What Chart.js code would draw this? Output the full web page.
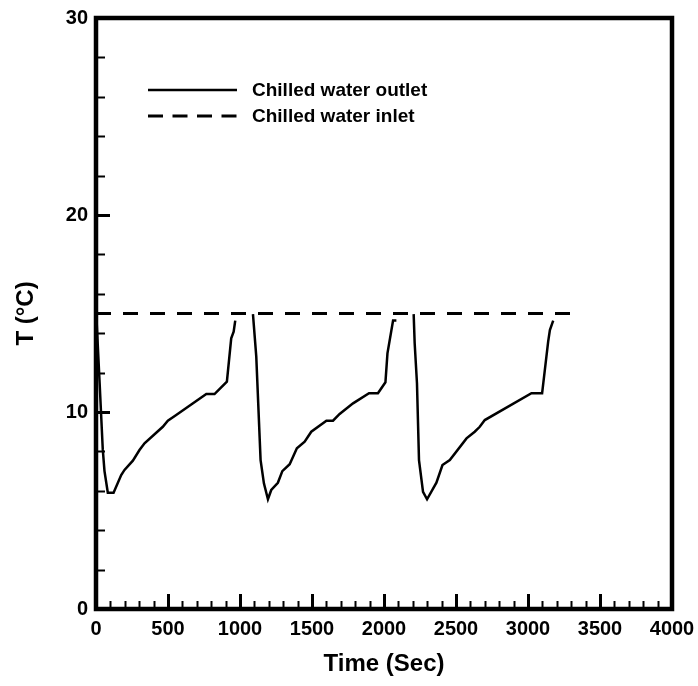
<!DOCTYPE html>
<html>
<head>
<meta charset="utf-8">
<title>Chilled water temperature</title>
<script src="https://cdn.jsdelivr.net/npm/chart.js@4/dist/chart.umd.min.js"></script>
<style>
  html, body { margin: 0; padding: 0; background: #fff; }
  #wrap { width: 698px; height: 686px; }
</style>
</head>
<body>
<div id="wrap"><canvas id="grafik" width="698" height="686"></canvas></div>
<script>
// Chilled water temperatures over three cycles
const outletTime = [
  5, 25, 47, 59, 82, 122, 175, 198, 256, 302, 337, 464, 499, 557, 766, 823, 909, 939, 956, 967,
  1030,
  1090, 1113, 1143, 1166, 1194, 1217, 1263, 1294, 1345, 1395, 1449, 1495, 1600, 1646, 1692, 1785, 1896, 1958, 2010, 2024, 2063, 2086,
  2150,
  2206, 2213, 2229, 2243, 2271, 2299, 2364, 2406, 2457, 2573, 2630, 2665, 2700, 3024, 3098, 3140, 3152, 3175
];
const outletTemp = [
  14.5, 11.5, 8.1, 7.0, 5.9, 5.9, 6.8, 7.06, 7.53, 8.07, 8.41, 9.25, 9.56, 9.85, 10.91, 10.91, 11.54, 13.74, 14.08, 14.64,
  null,
  14.97, 12.81, 7.56, 6.38, 5.57, 6.04, 6.41, 7.0, 7.35, 8.16, 8.49, 9.0, 9.56, 9.56, 9.9, 10.44, 10.95, 10.95, 11.51, 12.98, 14.64, 14.64,
  null,
  14.97, 13.49, 11.46, 7.56, 5.95, 5.57, 6.41, 7.31, 7.56, 8.66, 9.0, 9.25, 9.59, 10.95, 10.95, 13.57, 14.16, 14.64
];
const inletTime = [0, 3300];
const inletTemp = [15, 15];

const seriesNames = ["Chilled water outlet", "Chilled water inlet"];
const xTitle = "Time (Sec)";
const yTitle = "T (°C)";

const FONT = "'Liberation Sans', Arial, sans-serif";

function pairs(xs, ys) {
  return xs.map((x, i) => ({ x: x, y: ys[i] }));
}

// frame and inward ticks on left/bottom axes
const frame = {
  id: "frame",
  afterDatasetsDraw(chart) {
    const ctx = chart.ctx;
    const a = chart.chartArea;
    const xs = chart.scales.x;
    const ys = chart.scales.y;
    ctx.save();
    ctx.strokeStyle = "#000";
    ctx.lineCap = "butt";

    for (let v = 100; v < 4000; v += 100) {
      const px = Math.round(xs.getPixelForValue(v)) + 0.5;
      const major = v % 500 === 0;
      ctx.lineWidth = major ? 3 : 2;
      ctx.beginPath();
      ctx.moveTo(px, a.bottom);
      ctx.lineTo(px, a.bottom - (major ? 15 : 8));
      ctx.stroke();
    }
    for (let v = 2; v < 30; v += 2) {
      const py = Math.round(ys.getPixelForValue(v)) + 0.5;
      const major = v % 10 === 0;
      ctx.lineWidth = major ? 3 : 2;
      ctx.beginPath();
      ctx.moveTo(a.left, py);
      ctx.lineTo(a.left + (major ? 14 : 9), py);
      ctx.stroke();
    }

    ctx.lineWidth = 4.5;
    ctx.strokeRect(a.left, a.top, a.right - a.left, a.bottom - a.top);
    ctx.restore();
  }
};

// legend box inside the plot
const legendBox = {
  id: "legendBox",
  afterDraw(chart) {
    const ctx = chart.ctx;
    const rows = [
      { y: 90, dash: [] },
      { y: 116, dash: [15, 9.5] }
    ];
    ctx.save();
    ctx.strokeStyle = "#000";
    ctx.fillStyle = "#000";
    ctx.font = "bold 19px " + FONT;
    ctx.textBaseline = "middle";
    rows.forEach((r, i) => {
      ctx.lineWidth = i === 0 ? 2.5 : 3;
      ctx.setLineDash(r.dash);
      ctx.beginPath();
      ctx.moveTo(148, r.y);
      ctx.lineTo(237, r.y);
      ctx.stroke();
      ctx.setLineDash([]);
      ctx.fillText(seriesNames[i], 252, r.y + 1);
    });
    ctx.restore();
  }
};

const tickFont = { family: FONT, size: 20, weight: "bold" };
const titleFont = { family: FONT, size: 24, weight: "bold" };

const chart = new Chart(document.getElementById("grafik"), {
  type: "line",
  data: {
    datasets: [
      {
        label: seriesNames[0],
        data: pairs(outletTime, outletTemp),
        borderColor: "#000",
        borderWidth: 2.5,
        pointRadius: 0,
        tension: 0,
        spanGaps: false
      },
      {
        label: seriesNames[1],
        data: pairs(inletTime, inletTemp),
        borderColor: "#000",
        borderWidth: 3,
        borderDash: [15, 12],
        pointRadius: 0,
        tension: 0
      }
    ]
  },
  options: {
    responsive: false,
    animation: false,
    devicePixelRatio: 1,
    layout: { padding: { top: 18, right: 26, left: 0, bottom: 0 } },
    plugins: { legend: { display: false }, tooltip: { enabled: false } },
    scales: {
      x: {
        type: "linear",
        min: 0,
        max: 4000,
        grid: { display: false, drawTicks: false },
        border: { display: false },
        ticks: { stepSize: 500, padding: 8, color: "#000", font: tickFont, callback: v => String(v) },
        title: { display: true, text: xTitle, color: "#000", padding: { top: 0, bottom: 7 }, font: titleFont },
        afterFit(s) { s.height = 77; s.paddingLeft = 0; s.paddingRight = 0; }
      },
      y: {
        min: 0,
        max: 30,
        grid: { display: false, drawTicks: false },
        border: { display: false },
        ticks: { stepSize: 10, padding: 8, color: "#000", font: tickFont, callback: v => String(v) },
        title: { display: true, text: yTitle, color: "#000", padding: { top: 12, bottom: 0 }, font: titleFont },
        afterFit(s) { s.width = 96; s.paddingTop = 0; s.paddingBottom = 0; }
      }
    }
  },
  plugins: [frame, legendBox]
});
</script>
</body>
</html>
